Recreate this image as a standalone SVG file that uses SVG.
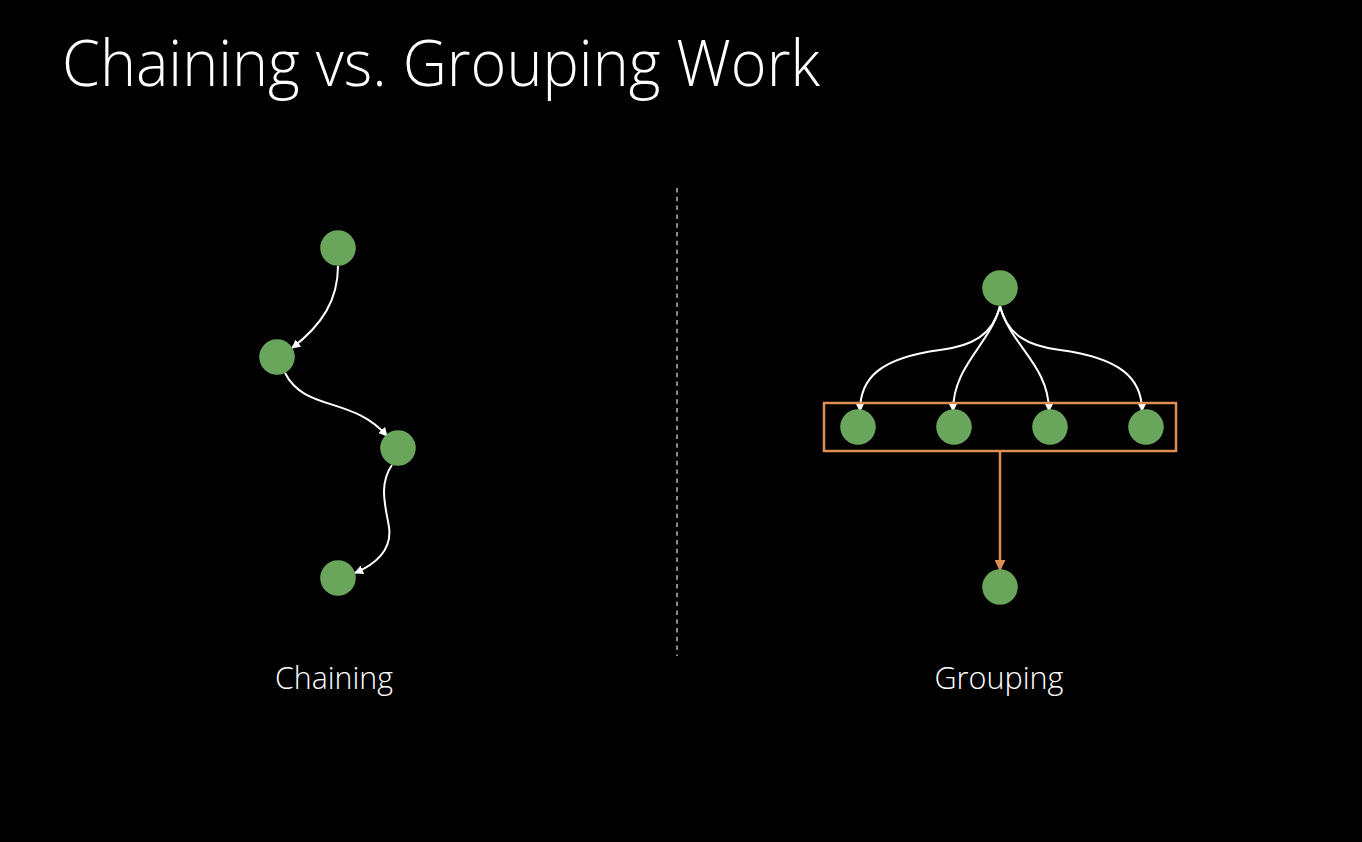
<svg xmlns="http://www.w3.org/2000/svg" width="1362" height="842" viewBox="0 0 1362 842">
<defs>
<style>
.node{fill:#6aa55c}
.wire{fill:none;stroke:#ffffff;stroke-width:2}
.orange{fill:none;stroke:#dc8e55;stroke-width:2.5}
.title{font-family:"Open Sans","Liberation Sans",sans-serif;font-weight:300;fill:#ffffff}
.label{font-family:"Open Sans","Liberation Sans",sans-serif;font-weight:300;fill:#ffffff;text-anchor:middle}
</style>
<marker id="aw" viewBox="0 0 10 10" refX="9" refY="5" markerWidth="9" markerHeight="9" markerUnits="userSpaceOnUse" orient="auto">
<path d="M0,0 L10,5 L0,10 z" fill="#ffffff"/>
</marker>
<marker id="ao" viewBox="0 0 10 10" refX="9" refY="5" markerWidth="11" markerHeight="11" markerUnits="userSpaceOnUse" orient="auto">
<path d="M0,0 L10,5 L0,10 z" fill="#dc8e55"/>
</marker>
</defs>
<rect x="0" y="0" width="1362" height="842" fill="#000000"/>
<text class="title" x="62" y="86" font-size="64" textLength="758" lengthAdjust="spacingAndGlyphs">Chaining vs. Grouping Work</text>
<line x1="677" y1="188" x2="677" y2="656" stroke="#8a8a8a" stroke-width="2" stroke-dasharray="4.5,4.3"/>
<g id="connectors">
<path class="wire" marker-end="url(#aw)" d="M338,266 C338,300 322,325 292,348"/>
<path class="wire" marker-end="url(#aw)" d="M285,373 C305,412 352,396 387,436"/>
<path class="wire" marker-end="url(#aw)" d="M392,465 C378,485 386,508 389,527 C392,548 378,563 355,573"/>
<path class="wire" marker-end="url(#aw)" d="M1000,306 C993,335 972,346 940,350 C880,358 860,378 860,411"/>
<path class="wire" marker-end="url(#aw)" d="M1000,306 C990,345 953,365 953,411"/>
<path class="wire" marker-end="url(#aw)" d="M1000,306 C1010,345 1049,365 1049,411"/>
<path class="wire" marker-end="url(#aw)" d="M1000,306 C1007,335 1028,346 1060,350 C1120,358 1142,378 1142,411"/>
<path class="orange" marker-end="url(#ao)" d="M1000,452 L1000,570"/>
</g>
<g id="chain1"><circle class="node" cx="338" cy="248" r="17.8"/></g>
<g id="chain2"><circle class="node" cx="277" cy="357" r="17.8"/></g>
<g id="chain3"><circle class="node" cx="398" cy="448" r="17.8"/></g>
<g id="chain4"><circle class="node" cx="338" cy="578" r="17.8"/></g>
<g id="group-box"><rect x="824" y="403" width="352" height="48" class="orange"/></g>
<g id="group-top"><circle class="node" cx="1000" cy="288" r="17.8"/></g>
<g id="group1"><circle class="node" cx="858" cy="427" r="17.8"/></g>
<g id="group2"><circle class="node" cx="954" cy="427" r="17.8"/></g>
<g id="group3"><circle class="node" cx="1050" cy="427" r="17.8"/></g>
<g id="group4"><circle class="node" cx="1146" cy="427" r="17.8"/></g>
<g id="group-bottom"><circle class="node" cx="1000" cy="587" r="17.8"/></g>
<text class="label" x="334" y="689" font-size="31" textLength="118" lengthAdjust="spacingAndGlyphs">Chaining</text>
<text class="label" x="999" y="689" font-size="31" textLength="129" lengthAdjust="spacingAndGlyphs">Grouping</text>
</svg>
